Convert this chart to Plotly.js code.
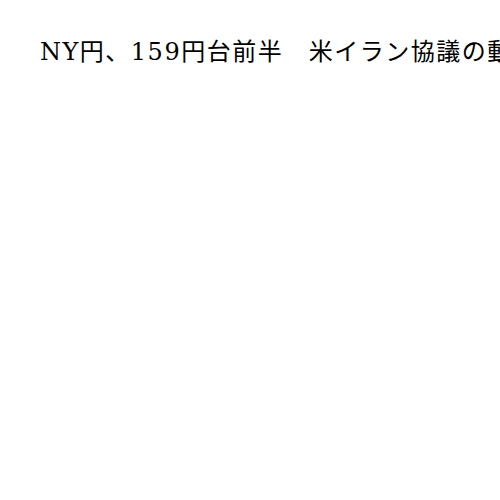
<!DOCTYPE html>
<html>
<head>
<meta charset="utf-8">
<script src="https://cdn.plot.ly/plotly-3.0.1.min.js"></script>
<style>
  html, body { margin: 0; padding: 0; background: #fff; }
  #chart { width: 500px; height: 500px; }
  /* the headline in the reference is set a little loose */
  #chart .gtitle { letter-spacing: 1.5px; }
</style>
</head>
<body>
<div id="chart"></div>
<script>
// chart carries only its headline; no series are drawn
const chartTitle = 'NY円、159円台前半　米イラン協議の動向注視';
const categories = [];
const values = [];

const trace = {
   type: 'scatter',
   mode: 'lines',
   x: categories,
   y: values,
   showlegend: false
};

const layout = {
   width: 500,
   height: 500,
   paper_bgcolor: '#ffffff',
   plot_bgcolor: '#ffffff',
   margin: {l: 40, r: 20, t: 90, b: 40},
   title: {
      text: chartTitle,
      font: {family: '"DejaVu Serif", "Noto Sans CJK JP", serif', size: 24, color: '#000000'},
      xref: 'container',
      x: 0.08,
      xanchor: 'left',
      yref: 'container',
      y: 0.896,
      yanchor: 'middle'
   },
   xaxis: {visible: false},
   yaxis: {visible: false}
};

Plotly.newPlot('chart', [trace], layout, {staticPlot: true, displayModeBar: false});
</script>
</body>
</html>
